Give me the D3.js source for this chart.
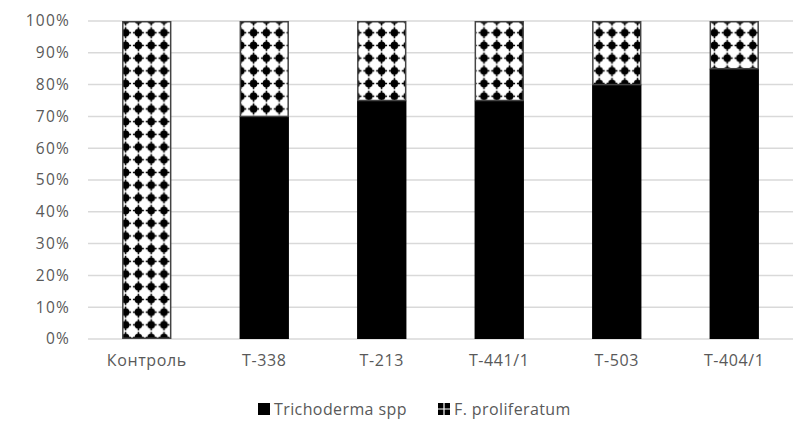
<!DOCTYPE html>
<html>
<head>
<meta charset="utf-8">
<script src="https://cdn.jsdelivr.net/npm/d3@7/dist/d3.min.js"></script>
<style>
  html, body { margin: 0; padding: 0; background: #fff; }
  svg { display: block; }
  text { font-family: "Open Sans", sans-serif; fill: #595959; }
</style>
</head>
<body>
<svg id="chart" width="810" height="422"></svg>
<script>
// Share of colonies per variant, %
const categories = ["Контроль", "T-338", "T-213", "T-441/1", "T-503", "T-404/1"];
const trichoderma = [0, 70, 75, 75, 80, 85];
const fusarium = [100, 30, 25, 25, 20, 15];
const yTicks = [0, 10, 20, 30, 40, 50, 60, 70, 80, 90, 100];
const seriesNames = ["Trichoderma spp", "F. proliferatum"];

const svg = d3.select("#chart");
const plot = { left: 88, right: 793, top: 21, bottom: 339 };

const x = d3.scaleBand()
  .domain(categories)
  .range([plot.left, plot.right])
  .paddingInner(0.58)
  .paddingOuter(0.29);

const y = d3.scaleLinear().domain([0, 100]).range([plot.bottom, plot.top]);

// Dotted-grid fill for the F. proliferatum segments
const defs = svg.append("defs");
const pat = defs.append("pattern")
  .attr("id", "dots")
  .attr("patternUnits", "userSpaceOnUse")
  .attr("width", 12.8)
  .attr("height", 12.7)
  .attr("x", 4)
  .attr("y", 1);
pat.append("rect").attr("width", 12.8).attr("height", 12.7).attr("fill", "#fff");
pat.append("circle").attr("cx", 6.4).attr("cy", 6.35).attr("r", 3.8).attr("fill", "#000");
pat.append("path")
  .attr("d", "M6.4,0.8 L6.4,11.9 M0.9,6.35 L11.9,6.35")
  .attr("stroke", "#000").attr("stroke-width", 1.5);

// Gridlines
svg.append("g")
  .selectAll("line")
  .data(yTicks)
  .join("line")
  .attr("x1", plot.left)
  .attr("x2", plot.right)
  .attr("y1", d => y(d))
  .attr("y2", d => y(d))
  .attr("stroke", "#d9d9d9")
  .attr("stroke-width", 1.5);

// Y axis labels
const yAxis = d3.axisLeft(y)
  .tickValues(yTicks)
  .tickFormat(d => d + "%")
  .tickSize(0)
  .tickPadding(18);
const gy = svg.append("g")
  .attr("transform", `translate(${plot.left},0)`)
  .call(yAxis);
gy.select(".domain").remove();
gy.selectAll("text")
  .style("font-family", "'Open Sans', sans-serif")
  .style("font-size", "15.5px")
  .style("letter-spacing", "1.2px")
  .attr("fill", "#595959");

// X axis labels
const xAxis = d3.axisBottom(x).tickSize(0).tickPadding(16);
const gx = svg.append("g")
  .attr("transform", `translate(0,${plot.bottom})`)
  .call(xAxis);
gx.select(".domain").remove();
gx.selectAll("text")
  .style("font-family", "'Open Sans', sans-serif")
  .style("font-size", "16px")
  .style("letter-spacing", "0.6px")
  .attr("fill", "#595959");

// Stacked bars
const bars = svg.append("g");
categories.forEach((c, i) => {
  const t = trichoderma[i];
  const f = fusarium[i];
  if (t > 0) {
    bars.append("rect")
      .attr("x", x(c))
      .attr("width", x.bandwidth())
      .attr("y", y(t))
      .attr("height", y(0) - y(t))
      .attr("fill", "#000");
  }
  if (f > 0) {
    bars.append("rect")
      .attr("x", x(c) + 0.75)
      .attr("width", x.bandwidth() - 1.5)
      .attr("y", y(t + f) + 0.75)
      .attr("height", y(t) - y(t + f) - (t > 0 ? 0.75 : 1.5))
      .attr("fill", "url(#dots)")
      .attr("stroke", "#444")
      .attr("stroke-width", 1.5);
  }
});

// Legend
const legend = svg.append("g").attr("transform", "translate(0,409)");
const lp = defs.append("pattern")
  .attr("id", "legendPat")
  .attr("patternUnits", "objectBoundingBox")
  .attr("width", 1).attr("height", 1);
lp.append("rect").attr("width", 12).attr("height", 12).attr("fill", "#000");
lp.append("path").attr("d", "M6,0 L6,12 M0,6 L12,6")
  .attr("stroke", "#fff").attr("stroke-width", 1.2);

const legendItems = [
  { name: seriesNames[0], x: 258, fill: "#000" },
  { name: seriesNames[1], x: 438, fill: "url(#legendPat)" }
];
legendItems.forEach(it => {
  legend.append("rect")
    .attr("x", it.x)
    .attr("y", -6)
    .attr("width", 12)
    .attr("height", 12)
    .attr("fill", it.fill);
  legend.append("text")
    .attr("x", it.x + 16)
    .attr("y", 0)
    .attr("dy", "0.35em")
    .style("font-size", "16px")
    .style("letter-spacing", "0.4px")
    .text(it.name);
});
</script>
</body>
</html>
